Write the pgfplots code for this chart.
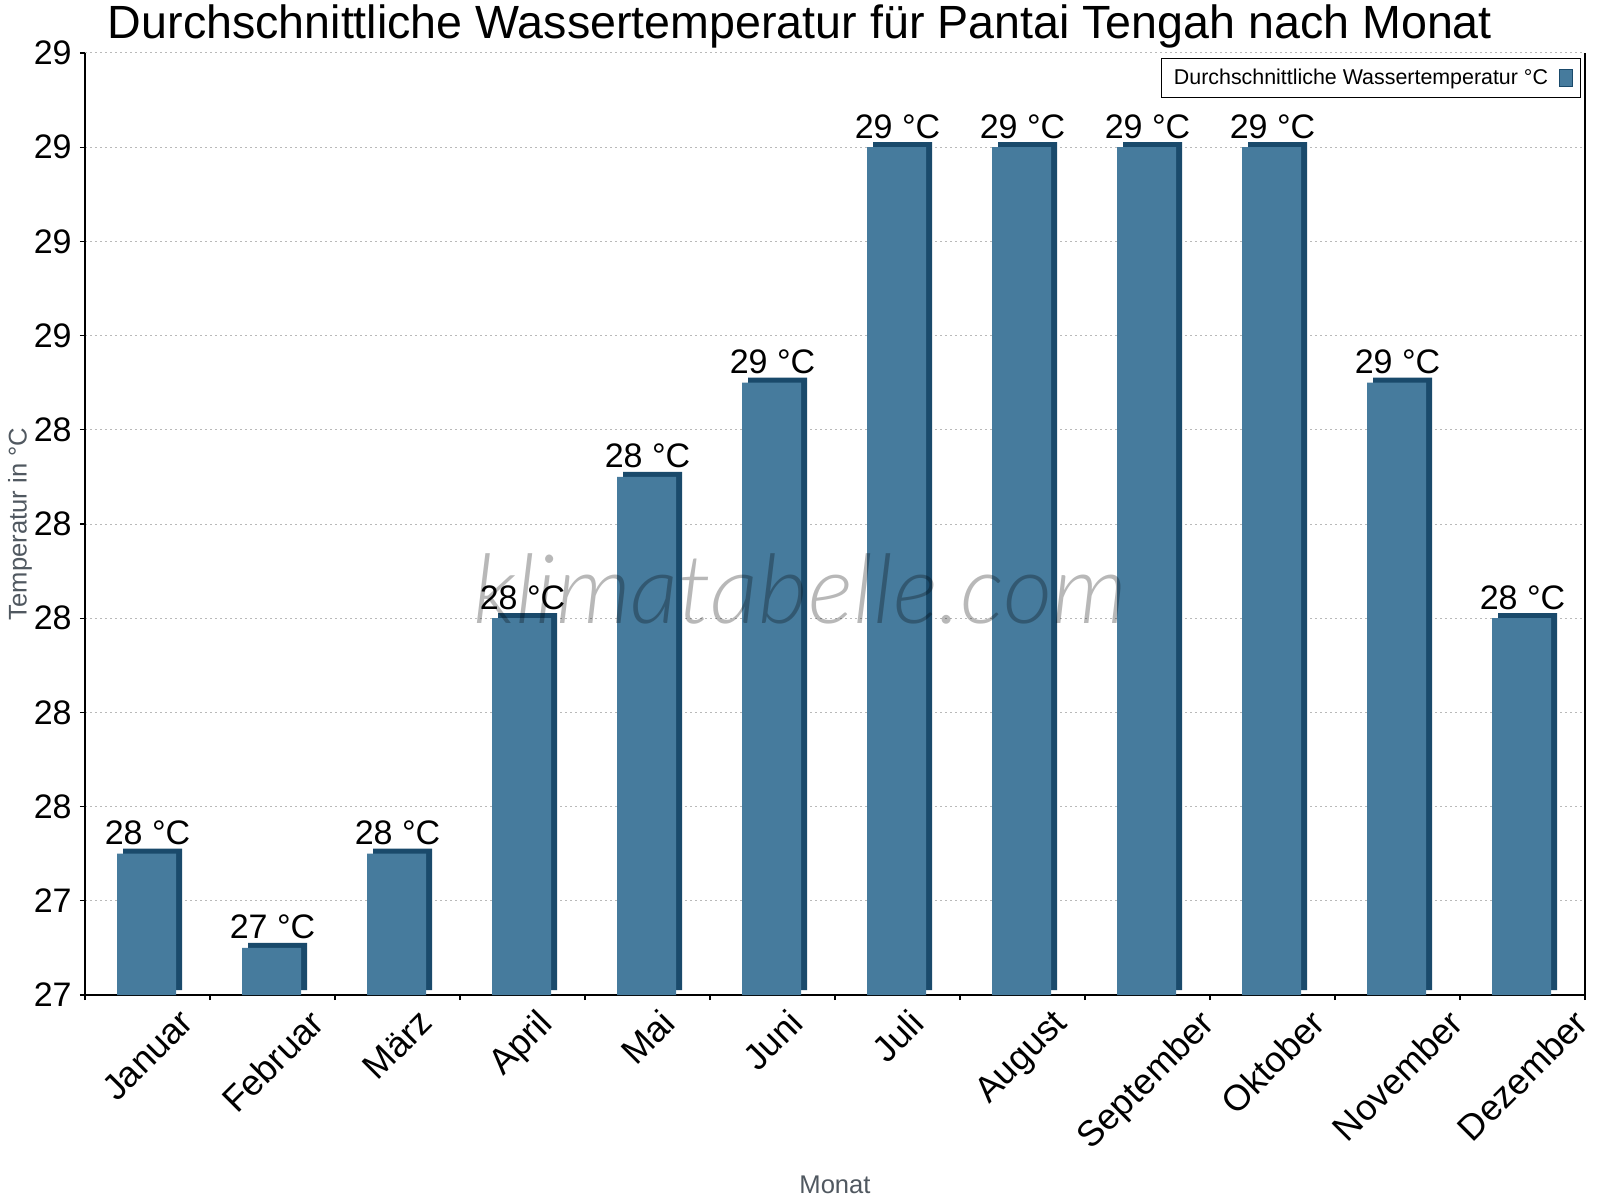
\documentclass[border=0pt]{standalone}
\usepackage{pgfplots}
\pgfplotsset{compat=1.18}
\usepackage{fontspec}
\setmainfont{Liberation Sans}
\newfontfamily\wmfont{Lato Light Italic}
\definecolor{barmain}{RGB}{70,123,157}
\definecolor{bardark}{RGB}{26,74,107}
\definecolor{labelgray}{RGB}{80,88,96}

\begin{document}
\begin{tikzpicture}
\begin{axis}[
  scale only axis, width=750pt, height=471pt,
  xmin=-0.5, xmax=11.5, ymin=27.2, ymax=29.2,
  axis x line*=bottom,
  axis line style={line width=0.8pt, black},
  % boundary ticks between the months
  xtick={-0.5,0.5,1.5,2.5,3.5,4.5,5.5,6.5,7.5,8.5,9.5,10.5,11.5},
  xticklabels={},
  x tick style={line width=0.6pt, black},
  % month names sit on the bar centres
  extra x ticks={0,1,2,3,4,5,6,7,8,9,10,11},
  extra x tick labels={\rotatebox{45}{Januar},\rotatebox{45}{Februar},\rotatebox{45}{März},\rotatebox{45}{April},\rotatebox{45}{Mai},\rotatebox{45}{Juni},\rotatebox{45}{Juli},\rotatebox{45}{August},\rotatebox{45}{September},\rotatebox{45}{Oktober},\rotatebox{45}{November},\rotatebox{45}{Dezember}},
  extra x tick style={major tick length=0pt, grid=none},
  xticklabel style={anchor=north, inner sep=0pt, yshift=-6pt, font=\fontsize{18}{21}\selectfont},
  ytick={27.2,27.4,27.6,27.8,28.0,28.2,28.4,28.6,28.8,29.0,29.2},
  ytick pos=left,
  y tick style={line width=0.6pt, black},
  yticklabel style={inner sep=0pt, xshift=-4pt, font=\fontsize{17}{20}\selectfont},
  /pgf/number format/assume math mode=true,
  yticklabel={\pgfmathprintnumber[fixed,precision=0]{\tick}},
  tick align=outside,
  major tick length=2.5pt,
  ymajorgrids,
  major grid style={gray!55, line width=0.5pt, dash pattern=on 1pt off 1.5pt},
  xlabel={Monat},
  xlabel style={at={(axis description cs:0.5,-0.2102)}, anchor=base, inner sep=0pt, text=labelgray, font=\fontsize{12.8}{15}\selectfont},
  ylabel={Temperatur in °C},
  ylabel style={at={(axis description cs:-0.0433,0.5)}, anchor=center, inner sep=0pt, text=labelgray, font=\fontsize{12.8}{15}\selectfont},
  legend plot pos=right,
  legend style={at={(axis description cs:1,1)}, anchor=north east, xshift=-2pt, yshift=-2.5pt,
    draw=black, line width=0.5pt, font=\fontsize{10.7}{13}\selectfont, inner xsep=4pt, inner ysep=3pt},
]
% dark side of each bar, offset to the right and upwards
\addplot[ybar, bar width=29.5pt, bar shift=2.5pt, yshift=2.5pt, fill=bardark, draw=none, forget plot]
  coordinates {(0,27.5)(1,27.3)(2,27.5)(3,28.0)(4,28.3)(5,28.5)(6,29.0)(7,29.0)(8,29.0)(9,29.0)(10,28.5)(11,28.0)};
% bar faces with their values
\addplot[ybar, bar width=29.5pt, bar shift=-0.5pt, fill=barmain, draw=none,
  nodes near coords={\pgfmathprintnumber[fixed,precision=0]{\pgfplotspointmeta} °C},
  every node near coord/.append style={anchor=base, yshift=4.5pt, inner sep=0pt, text=black, font=\fontsize{17}{20}\selectfont},
  legend image code/.code={\path (0pt,0pt) (10pt,0pt);
    \draw[fill=barmain, draw=bardark, line width=0.5pt] (3.5pt,-4.25pt) rectangle (10pt,4.25pt);}]
  coordinates {(0,27.5)(1,27.3)(2,27.5)(3,28.0)(4,28.3)(5,28.5)(6,29.0)(7,29.0)(8,29.0)(9,29.0)(10,28.5)(11,28.0)};
\addlegendentry{Durchschnittliche Wassertemperatur °C}
\node[anchor=base, text=black, text opacity=0.28, font=\wmfont\fontsize{48}{52}\selectfont]
  at (rel axis cs:0.4767,0.394) {klimatabelle.com};
\end{axis}
% chart title, centred on the page
\node[anchor=base, inner sep=0pt, font=\fontsize{23.3}{27}\selectfont]
  at ([shift={(357.5pt,7pt)}]current axis.north west) {Durchschnittliche Wassertemperatur für Pantai Tengah nach Monat};
\pgfresetboundingbox
\path ([shift={(-42.5pt,-102.5pt)}]current axis.south west) rectangle ++(800pt,600pt);
\end{tikzpicture}
\end{document}
